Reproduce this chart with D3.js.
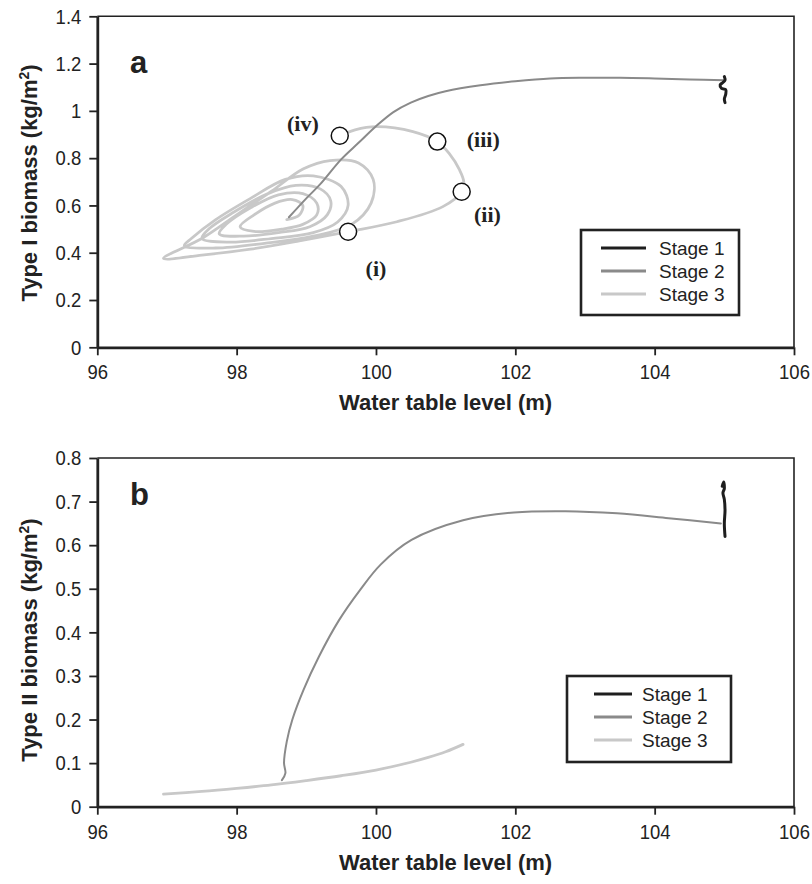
<!DOCTYPE html>
<html>
<head>
<meta charset="utf-8">
<script src="https://cdn.jsdelivr.net/npm/d3@7"></script>
<style>
  body { margin: 0; background: #fff; }
  svg { font-family: "Liberation Sans", Arial, sans-serif; }
</style>
</head>
<body>
<svg id="chart"></svg>
<script>
// ---- data ----
var xTicks = [96, 98, 100, 102, 104, 106];
var yTicksA = [0, 0.2, 0.4, 0.6, 0.8, 1, 1.2, 1.4];
var yTicksB = [0, 0.1, 0.2, 0.3, 0.4, 0.5, 0.6, 0.7, 0.8];
var stageNames = ["Stage 1", "Stage 2", "Stage 3"];

// panel a: Type I biomass
var stage1A = [[105.0, 1.145], [105.01, 1.13], [104.98, 1.12], [104.94, 1.11], [104.96, 1.095],
  [105.02, 1.09], [105.02, 1.07], [105.0, 1.05], [105.01, 1.035]];
var stage2A = [[105.0, 1.13], [104.5, 1.133], [104.0, 1.137], [103.5, 1.14], [103.0, 1.14],
  [102.5, 1.137], [102.0, 1.125], [101.5, 1.108], [101.0, 1.083], [100.75, 1.063], [100.5, 1.035],
  [100.25, 0.995], [100.0, 0.935], [99.75, 0.865], [99.5, 0.795], [99.2, 0.69], [99.0, 0.63], [98.75, 0.55]];
var stage3A = [[98.72, 0.54], [98.9, 0.56], [98.95, 0.6], [98.8, 0.625], [98.55, 0.61], [98.25, 0.56],
  [98.05, 0.51], [98.25, 0.49], [98.65, 0.5], [98.95, 0.52],
  [99.15, 0.56], [99.15, 0.61], [98.95, 0.65], [98.6, 0.645], [98.2, 0.59], [97.85, 0.52],
  [97.75, 0.48], [98.1, 0.47], [98.6, 0.485], [99.05, 0.51], [99.3, 0.56],
  [99.35, 0.62], [99.2, 0.67], [98.85, 0.685], [98.45, 0.65], [97.95, 0.57], [97.6, 0.5],
  [97.5, 0.46], [97.9, 0.445], [98.5, 0.46], [99.1, 0.485], [99.45, 0.53],
  [99.6, 0.6], [99.5, 0.68], [99.1, 0.725], [98.7, 0.71], [98.2, 0.63], [97.7, 0.54],
  [97.35, 0.46], [97.25, 0.43], [97.7, 0.42], [98.4, 0.44], [99.1, 0.47], [99.65, 0.52],
  [99.93, 0.61], [99.96, 0.71], [99.75, 0.78], [99.34, 0.79], [98.96, 0.755], [98.5, 0.66],
  [98.0, 0.56], [97.5, 0.46], [96.95, 0.376],
  [97.5, 0.39], [98.2, 0.415], [98.9, 0.45], [99.6, 0.489], [100.3, 0.531], [100.96, 0.595],
  [101.23, 0.658], [101.26, 0.70], [101.2, 0.75], [101.05, 0.82], [100.88, 0.87], [100.53, 0.912],
  [100.01, 0.933], [99.7, 0.92], [99.48, 0.895]];
var markerPts = [[99.6, 0.489], [101.23, 0.658], [100.88, 0.87], [99.48, 0.895]];
var markerNames = ["(i)", "(ii)", "(iii)", "(iv)"];
var markerLabelPos = [[100.0, 0.30], [101.6, 0.53], [101.54, 0.847], [98.95, 0.915]];

// panel b: Type II biomass
var stage1B = [[104.97, 0.735], [104.99, 0.745], [105.0, 0.73], [104.98, 0.72], [105.0, 0.705],
  [105.01, 0.68], [105.0, 0.65], [105.01, 0.62]];
var stage2B = [[104.95, 0.65], [104.2, 0.662], [103.46, 0.673], [102.72, 0.678], [101.98, 0.675],
  [101.25, 0.657], [100.51, 0.612], [100.07, 0.556], [99.77, 0.497], [99.47, 0.428], [99.18, 0.344],
  [98.96, 0.268], [98.8, 0.2], [98.72, 0.15], [98.68, 0.1], [98.7, 0.077], [98.65, 0.061]];
var stage3B = [[96.95, 0.029], [97.5, 0.035], [98.0, 0.042], [98.5, 0.05], [99.0, 0.06],
  [99.5, 0.071], [100.0, 0.084], [100.5, 0.102], [100.75, 0.113], [101.0, 0.126], [101.25, 0.143]];

var stageColors = ["#1e1e1e", "#8a8a8a", "#c8c8c8"];
var stageWidths = [3, 2, 2.8];

var width = 812, height = 884;
var svg = d3.select("#chart").attr("width", width).attr("height", height);

function drawPanel(p) {
  var x = d3.scaleLinear().domain([96, 106]).range([97.3, 794]);
  var y = d3.scaleLinear().domain([0, p.yMax]).range([p.bottom, p.top]);
  var g = svg.append("g");

  // frame: thin top / right
  g.append("path")
    .attr("d", "M" + x(96) + "," + y(p.yMax) + "H" + x(106) + "V" + y(0))
    .attr("fill", "none").attr("stroke", "#222").attr("stroke-width", 1.6);

  var line = d3.line().x(d => x(d[0])).y(d => y(d[1])).curve(d3.curveCatmullRom.alpha(0.5));
  [p.s3, p.s2, p.s1].forEach(function(s, i) {
    var k = 2 - i;
    g.append("path").datum(s)
      .attr("d", line)
      .attr("fill", "none")
      .attr("stroke", stageColors[k])
      .attr("stroke-width", stageWidths[k])
      .attr("stroke-linejoin", "round")
      .attr("stroke-linecap", "round");
  });

  var xAxis = g.append("g")
    .attr("transform", "translate(0," + y(0) + ")")
    .call(d3.axisBottom(x).tickValues(xTicks).tickSize(8).tickSizeOuter(0).tickPadding(9));
  var yAxis = g.append("g")
    .attr("transform", "translate(" + x(96) + ",0)")
    .call(d3.axisLeft(y).tickValues(p.yTicks).tickSize(8).tickSizeOuter(0).tickPadding(8)
      .tickFormat(d => String(+d.toFixed(2))));
  [xAxis, yAxis].forEach(function(a) {
    a.select(".domain").attr("stroke", "#222").attr("stroke-width", 2.8);
    a.selectAll(".tick line").attr("stroke", "#222").attr("stroke-width", 1.8);
  });
  // narrow, tall tick labels like the original
  xAxis.selectAll(".tick text")
    .attr("fill", "#222").style("font-size", "21px")
    .attr("transform", "scale(0.88,1)");
  yAxis.selectAll(".tick text")
    .attr("fill", "#222").style("font-size", "21px")
    .attr("x", -16 / 0.88)
    .attr("transform", "scale(0.88,1)");

  g.append("text")
    .attr("x", 445.6).attr("y", y(0) + 63)
    .attr("text-anchor", "middle")
    .style("font-size", "22px").style("font-weight", "bold").attr("fill", "#222")
    .text("Water table level (m)");

  var yt = g.append("text")
    .attr("transform", "translate(37," + p.titleY + ") rotate(-90)")
    .attr("text-anchor", "middle")
    .style("font-size", "22px").style("font-weight", "bold").attr("fill", "#222");
  yt.append("tspan").text(p.yTitle + " (kg/m");
  yt.append("tspan").attr("dy", -8).style("font-size", "14px").text("2");
  yt.append("tspan").attr("dy", 8).text(")");

  g.append("text")
    .attr("x", 130).attr("y", p.top + p.letterDy)
    .style("font-size", "31px").style("font-weight", "bold").attr("fill", "#222")
    .text(p.letter);

  // legend
  var L = p.legend;
  g.append("rect")
    .attr("x", L.x).attr("y", L.y).attr("width", L.w).attr("height", L.h)
    .attr("fill", "#fff").attr("stroke", "#222").attr("stroke-width", 2.6);
  stageNames.forEach(function(name, i) {
    var ly = L.y + 18 + i * 23;
    g.append("line")
      .attr("x1", L.x + L.lx0).attr("x2", L.x + L.lx1).attr("y1", ly).attr("y2", ly)
      .attr("stroke", stageColors[i]).attr("stroke-width", 3);
    g.append("text")
      .attr("x", L.x + L.tx).attr("y", ly + 7)
      .style("font-size", "19px").attr("fill", "#222")
      .text(name);
  });

  if (p.markers) {
    g.selectAll("circle.marker").data(markerPts).enter().append("circle")
      .attr("class", "marker")
      .attr("cx", d => x(d[0])).attr("cy", d => y(d[1])).attr("r", 8.5)
      .attr("fill", "#fff").attr("stroke", "#111").attr("stroke-width", 1.5);
    g.selectAll("text.mlab").data(markerLabelPos).enter().append("text")
      .attr("class", "mlab")
      .attr("x", d => x(d[0])).attr("y", d => y(d[1]))
      .attr("text-anchor", "middle")
      .style("font-family", "'Liberation Serif', 'Times New Roman', serif")
      .style("font-size", "22px").style("font-weight", "bold").attr("fill", "#222")
      .text((d, i) => markerNames[i]);
  }
}

drawPanel({
  top: 16.3, bottom: 347.3, yMax: 1.4, yTicks: yTicksA, titleY: 183,
  yTitle: "Type I biomass", letter: "a", letterDy: 57,
  s1: stage1A, s2: stage2A, s3: stage3A, markers: true,
  legend: { x: 581, y: 230, w: 158, h: 85, lx0: 20, lx1: 65, tx: 78 }
});
drawPanel({
  top: 458, bottom: 806.7, yMax: 0.8, yTicks: yTicksB, titleY: 640,
  yTitle: "Type II biomass", letter: "b", letterDy: 47,
  s1: stage1B, s2: stage2B, s3: stage3B, markers: false,
  legend: { x: 567, y: 676, w: 164, h: 86, lx0: 27, lx1: 65, tx: 75 }
});
</script>
</body>
</html>
